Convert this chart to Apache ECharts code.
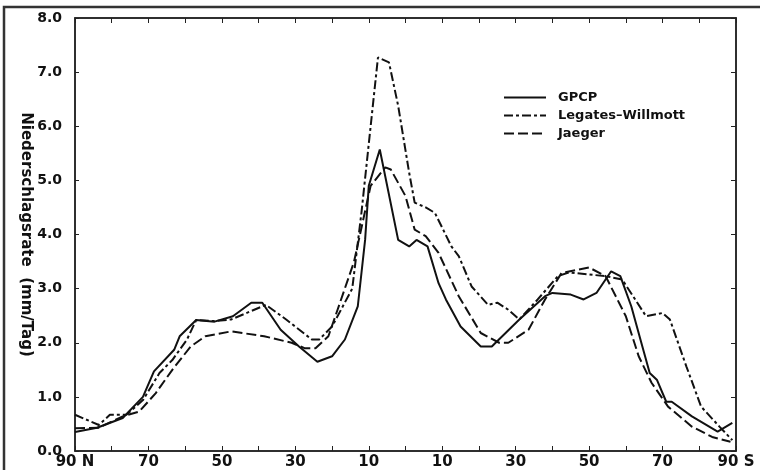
<!DOCTYPE html>
<html lang="de" style="height: 100%">
<head>
  <meta charset="utf-8">
</head>
<body style="height: 100%; margin: 0; background: #fff">
  <div id="container" style="height: 100%"></div>

  <script type="text/javascript" src="https://cdn.jsdelivr.net/npm/echarts@6.0.0/dist/echarts.min.js"></script>

  <script type="text/javascript">
    // Breite in Grad (Nord positiv), Niederschlag in mm/Tag
    var gpcpLat = [90, 84, 77, 71.5, 68.5, 63, 61.5, 57, 52, 47, 42, 39, 34, 29, 24, 20, 16.5, 13, 11, 10, 7, 2, -1, -3, -6, -9, -11, -15, -20.5, -23.5, -31, -38, -40, -45, -48.5, -52, -56, -58.5, -61.5, -64.5, -66.5, -68.5, -71, -72.5, -78, -85, -89];
    var gpcpVal = [0.35, 0.43, 0.61, 1.0, 1.47, 1.87, 2.12, 2.42, 2.39, 2.49, 2.74, 2.74, 2.24, 1.93, 1.65, 1.75, 2.06, 2.67, 3.9, 4.9, 5.57, 3.9, 3.78, 3.9, 3.78, 3.1, 2.8, 2.3, 1.93, 1.93, 2.43, 2.86, 2.92, 2.89, 2.8, 2.92, 3.32, 3.23, 2.67, 1.93, 1.44, 1.31, 0.91, 0.91, 0.64, 0.36, 0.52];

    var lwLat = [90, 83.5, 80.5, 76, 71.5, 67, 63.5, 59.5, 57, 52, 47.5, 38, 32.5, 25.5, 23.5, 20, 14.5, 12, 7.5, 4.5, 2, -1, -2.5, -5.5, -8, -12.5, -14.5, -18, -22.5, -25, -28, -31, -36, -41.5, -44.5, -54.5, -59, -65.5, -70, -72, -76.5, -80.5, -85.5, -89];
    var lwVal = [0.67, 0.48, 0.67, 0.67, 0.94, 1.44, 1.68, 2.06, 2.42, 2.4, 2.43, 2.7, 2.43, 2.06, 2.06, 2.3, 3.0, 4.4, 7.27, 7.18, 6.38, 5.14, 4.59, 4.5, 4.4, 3.78, 3.6, 3.04, 2.7, 2.74, 2.61, 2.43, 2.8, 3.23, 3.3, 3.23, 3.17, 2.49, 2.55, 2.43, 1.56, 0.82, 0.45, 0.2];

    var jaegerLat = [90, 83.5, 77, 72.5, 68, 63.5, 58.5, 54.5, 47.5, 38.5, 31, 27.5, 24.5, 21, 18.5, 14, 9.5, 5.5, 4, 0, -2.5, -5.5, -9, -14.5, -20.5, -25.5, -28, -33.5, -38, -42.5, -50, -54.5, -60, -63.5, -67, -71.5, -78, -83.5, -88.5];
    var jaegerVal = [0.42, 0.43, 0.64, 0.73, 1.07, 1.5, 1.93, 2.12, 2.21, 2.12, 2.0, 1.9, 1.9, 2.12, 2.61, 3.5, 4.9, 5.24, 5.2, 4.71, 4.09, 3.97, 3.66, 2.86, 2.18, 2.0, 2.0, 2.24, 2.8, 3.29, 3.39, 3.23, 2.49, 1.75, 1.26, 0.82, 0.45, 0.26, 0.17];

    var seriesNames = ['GPCP', 'Legates\u2013Willmott', 'Jaeger'];

    function pairs(lat, val) {
      return lat.map(function (l, i) { return [l, val[i]]; });
    }

    var dom = document.getElementById('container');
    var myChart = echarts.init(dom, null, { renderer: 'canvas' });

    var ink = '#111';
    var bold = { fontFamily: 'DejaVu Sans', fontWeight: 'bold', color: ink };

    function latLabel(v) {
      if (v === 90) return '90 N';
      if (v === -90) return '90 S';
      return Math.abs(v) % 20 === 10 ? String(Math.abs(v)) : '';
    }

    var axisInk = { color: '#222', width: 1.5 };

    var option = {
      animation: false,
      backgroundColor: '#fff',
      grid: { left: 75, right: 24, top: 18, bottom: 19, show: true, borderColor: '#222', borderWidth: 1.5 },
      legend: {
        orient: 'vertical',
        left: 503,
        top: 91,
        padding: 0,
        itemWidth: 42,
        itemHeight: 14,
        itemGap: 5,
        data: seriesNames,
        itemStyle: { opacity: 0 },
        textStyle: Object.assign({ fontSize: 13, padding: [0, 0, 0, 7] }, bold)
      },
      xAxis: [{
        type: 'value', min: -90, max: 90, interval: 10, inverse: true,
        axisLine: { onZero: false, lineStyle: axisInk },
        axisTick: { inside: true, length: 5, lineStyle: { color: '#222' } },
        splitLine: { show: false },
        axisLabel: Object.assign({ fontSize: 15, margin: 4, formatter: latLabel }, bold)
      }, {
        type: 'value', position: 'top', min: -90, max: 90, interval: 10, inverse: true,
        axisLine: { onZero: false, lineStyle: axisInk },
        axisTick: { inside: true, length: 5, lineStyle: { color: '#222' } },
        splitLine: { show: false },
        axisLabel: { show: false }
      }],
      yAxis: [{
        type: 'value', min: 0, max: 8, interval: 1,
        name: 'Niederschlagsrate  (mm/Tag)',
        nameLocation: 'middle',
        nameRotate: -90,
        nameGap: 42,
        nameMoveOverlap: false,
        nameTextStyle: Object.assign({ fontSize: 15 }, bold),
        axisLine: { show: true, onZero: false, lineStyle: axisInk },
        axisTick: { show: true, inside: true, length: 4, lineStyle: { color: '#222' } },
        splitLine: { show: false },
        axisLabel: Object.assign({ fontSize: 14, margin: 13, formatter: function (v) { return v.toFixed(1); } }, bold)
      }, {
        type: 'value', position: 'right', min: 0, max: 8, interval: 1,
        axisLine: { show: true, onZero: false, lineStyle: axisInk },
        axisTick: { show: true, inside: true, length: 5, lineStyle: { color: '#222' } },
        splitLine: { show: false },
        axisLabel: { show: false }
      }],
      series: [{
        name: seriesNames[0], type: 'line', symbol: 'none',
        itemStyle: { color: ink },
        lineStyle: { color: ink, width: 2, type: 'solid' },
        data: pairs(gpcpLat, gpcpVal)
      }, {
        name: seriesNames[1], type: 'line', symbol: 'none',
        itemStyle: { color: ink },
        lineStyle: { color: ink, width: 2, type: [9, 3, 3, 3] },
        data: pairs(lwLat, lwVal)
      }, {
        name: seriesNames[2], type: 'line', symbol: 'none',
        itemStyle: { color: ink },
        lineStyle: { color: ink, width: 2, type: [10, 4] },
        data: pairs(jaegerLat, jaegerVal)
      }],
      graphic: [{
        type: 'polyline',
        shape: { points: [[4, 470], [4, 7], [760, 7]] },
        style: { stroke: '#333', lineWidth: 2.5, fill: null }
      }]
    };

    myChart.setOption(option);
    window.addEventListener('resize', myChart.resize);
  </script>
</body>
</html>
